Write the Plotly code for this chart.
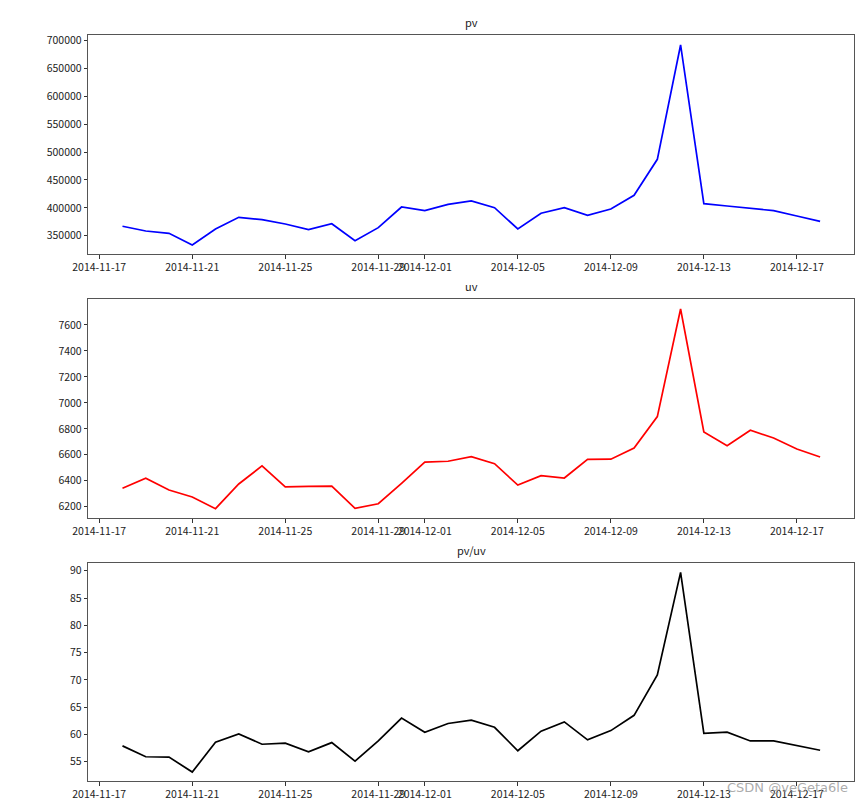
import plotly.graph_objects as go
import pandas as pd

dates = pd.date_range("2014-11-18", "2014-12-18", freq="D").strftime("%Y-%m-%d").tolist()

pv = [366900, 358400, 354300, 333300, 362000, 383000, 378700, 371000, 360800, 371500,
      341000, 364400, 401500, 394900, 406300, 412300, 400200, 362000, 390200, 400200,
      386600, 397900, 422500, 487100, 692300, 407400, 403300, 399200, 394900, 385400,
      375800]

uv = [6342, 6419, 6329, 6275, 6185, 6375, 6514, 6352, 6357, 6358,
      6187, 6223, 6380, 6544, 6550, 6585, 6531, 6367, 6439, 6421,
      6565, 6566, 6652, 6894, 7723, 6776, 6670, 6789, 6729, 6645,
      6583]

pv_uv = [57.9, 55.9, 55.85, 53.1, 58.55, 60.1, 58.2, 58.4, 56.8, 58.5,
         55.1, 58.8, 63.0, 60.4, 62.0, 62.6, 61.3, 57.0, 60.6, 62.3,
         59.0, 60.7, 63.5, 70.9, 89.7, 60.2, 60.4, 58.8, 58.8, 57.9,
         57.1]

titles = ["pv", "uv", "pv/uv"]
colors = ["blue", "red", "black"]
x_tick_dates = ["2014-11-17", "2014-11-21", "2014-11-25", "2014-11-29", "2014-12-01",
                "2014-12-05", "2014-12-09", "2014-12-13", "2014-12-17"]
y_ticks = [
    [350000, 400000, 450000, 500000, 550000, 600000, 650000, 700000],
    [6200, 6400, 6600, 6800, 7000, 7200, 7400, 7600],
    [55, 60, 65, 70, 75, 80, 85, 90],
]
y_ranges = [[316600, 710200], [6113, 7800], [51.46, 91.47]]
series = [pv, uv, pv_uv]

W, H = 866, 802
x_dom = [88.3 / W, 854.3 / W]
panels_px = [(35, 254.3), (299, 518), (562.7, 781)]

FONT = "Noto Sans CJK SC, DejaVu Sans, sans-serif"
fig = go.Figure()
layout = dict(
    width=W, height=H,
    margin=dict(l=0, r=0, t=0, b=0, autoexpand=False),
    paper_bgcolor="white", plot_bgcolor="white",
    showlegend=False,
    font=dict(family=FONT, size=10.5, color="#222"),
)
annotations = []
for i in range(3):
    sfx = "" if i == 0 else str(i + 1)
    fig.add_trace(go.Scatter(x=dates, y=series[i], mode="lines",
                             line=dict(color=colors[i], width=1.7),
                             xaxis="x" + sfx, yaxis="y" + sfx))
    top, bot = panels_px[i]
    ydom = [1 - bot / H, 1 - top / H]
    layout["xaxis" + sfx] = dict(
        domain=x_dom, anchor="y" + sfx, type="date",
        range=["2014-11-16 12:43", "2014-12-19 11:17"],
        tickvals=x_tick_dates, ticktext=x_tick_dates,
        tickangle=0, automargin=False,
        ticks="outside", ticklen=3.5, tickcolor="#333",
        showgrid=False, zeroline=False,
        showline=True, mirror=True, linecolor="#555", linewidth=1,
        tickfont=dict(size=10.5, family=FONT, color="#222"),
    )
    layout["yaxis" + sfx] = dict(
        domain=ydom, anchor="x" + sfx, automargin=False,
        range=y_ranges[i], tickvals=y_ticks[i],
        ticktext=[str(v) for v in y_ticks[i]],
        ticks="outside", ticklen=3.5, tickcolor="#333",
        showgrid=False, zeroline=False,
        showline=True, mirror=True, linecolor="#555", linewidth=1,
        tickfont=dict(size=10.5, family=FONT, color="#222"),
    )
    annotations.append(dict(
        text=titles[i], x=(x_dom[0] + x_dom[1]) / 2, xref="paper",
        y=1 - (top - 3) / H, yref="paper", yanchor="bottom", xanchor="center",
        showarrow=False, font=dict(size=11, family=FONT, color="#222"),
    ))

annotations.append(dict(
    text="CSDN @veGeta6le", x=850 / W, xref="paper", y=1 - 787 / H, yref="paper",
    xanchor="right", yanchor="middle", showarrow=False,
    font=dict(size=13, family="DejaVu Sans, sans-serif", color="rgba(150,150,150,0.8)"),
))
layout["annotations"] = annotations
fig.update_layout(**layout)
fig.write_html("out.html", config={"displayModeBar": False},
               post_script="document.body.style.margin='0px';document.body.style.overflow='hidden';")
